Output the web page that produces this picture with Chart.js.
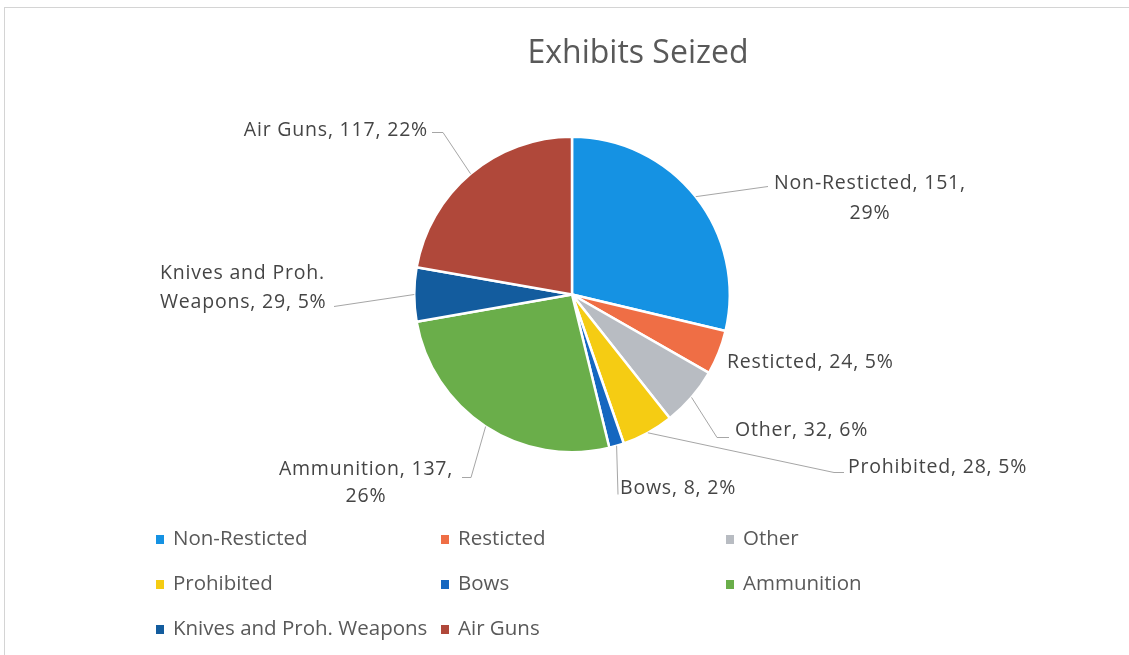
<!DOCTYPE html>
<html>
<head>
<meta charset="utf-8">
<script src="https://cdn.jsdelivr.net/npm/chart.js@4.4.1/dist/chart.umd.min.js"></script>
<style>
  html, body { margin: 0; padding: 0; background: #fff; }
  #wrap { width: 1129px; height: 655px; position: relative; }
</style>
</head>
<body>
<div id="wrap"><canvas id="pie"></canvas></div>
<script>
// --- data ---
const categories = ["Non-Resticted", "Resticted", "Other", "Prohibited", "Bows", "Ammunition", "Knives and Proh. Weapons", "Air Guns"];
const counts = [151, 24, 32, 28, 8, 137, 29, 117];
const sliceColors = ["#1592e3", "#ef6e45", "#b8bcc2", "#f5cc13", "#1567c0", "#6aae4a", "#135c9e", "#b0483a"];

const textColor = "#454545";
const lineColor = "#a6a6a6";
const labelFont = "19.5px 'Open Sans'";

// label layout, relative to the pie centre: text lines, anchor, alignment, elbow of leader line
const labelLayout = [
  { lines: ["Non-Resticted, 151,", "29%"], x: 298, y: -111, align: "center", lh: 30, elbow: [[196, -108]], tip: null },
  { lines: ["Resticted, 24, 5%"], x: 155, y: 68, align: "left", lh: 30, elbow: null },
  { lines: ["Other, 32, 6%"], x: 163, y: 136, align: "left", lh: 30, elbow: [[145, 143]], tip: [157, 143] },
  { lines: ["Prohibited, 28, 5%"], x: 276, y: 173, align: "left", lh: 30, elbow: [[262, 178]], tip: [272, 178] },
  { lines: ["Bows, 8, 2%"], x: 48, y: 194, align: "left", lh: 30, elbow: [[46, 200]], tip: null },
  { lines: ["Ammunition, 137,", "26%"], x: -206, y: 175, align: "center", lh: 27, elbow: [[-101, 183]], tip: [-110, 183] },
  { lines: ["Knives and Proh.", "Weapons, 29, 5%"], x: -412, y: -21, align: "left", lh: 29, elbow: [[-238, 12]], tip: null },
  { lines: ["Air Guns, 117, 22%"], x: -144, y: -164, align: "right", lh: 30, elbow: [[-129, -162]], tip: [-140, -162] }
];

const legendCols = [160, 445, 730];
const legendRows = [539, 584, 629];

const decorPlugin = {
  id: "decor",
  beforeDraw(chart) {
    const ctx = chart.ctx;
    ctx.save();
    ctx.fillStyle = "#fff";
    ctx.fillRect(0, 0, chart.width, chart.height);
    ctx.strokeStyle = "#d4d4d4";
    ctx.lineWidth = 1;
    ctx.strokeRect(4.5, 7.5, chart.width + 10, chart.height + 10);
    ctx.restore();
  },
  afterDraw(chart) {
    const ctx = chart.ctx;
    const meta = chart.getDatasetMeta(0);
    const cx = meta.data[0].x, cy = meta.data[0].y;
    ctx.save();

    // title
    ctx.fillStyle = "#595959";
    ctx.font = "32px 'Open Sans'";
    ctx.textAlign = "center";
    ctx.textBaseline = "middle";
    ctx.fillText("Exhibits Seized", 638, 54);

    // data labels with leader lines
    ctx.font = labelFont;
    ctx.letterSpacing = "0.8px";
    meta.data.forEach((arc, i) => {
      const L = labelLayout[i];
      const p = arc.getProps(["startAngle", "endAngle", "outerRadius"], true);
      const mid = (p.startAngle + p.endAngle) / 2;
      const ex = cx + Math.cos(mid) * p.outerRadius;
      const ey = cy + Math.sin(mid) * p.outerRadius;
      if (L.elbow) {
        ctx.strokeStyle = lineColor;
        ctx.lineWidth = 1;
        ctx.beginPath();
        ctx.moveTo(ex, ey);
        L.elbow.forEach(e => ctx.lineTo(cx + e[0], cy + e[1]));
        if (L.tip) ctx.lineTo(cx + L.tip[0], cy + L.tip[1]);
        ctx.stroke();
      }
      ctx.fillStyle = textColor;
      ctx.textAlign = L.align;
      ctx.textBaseline = "middle";
      L.lines.forEach((t, k) => {
        ctx.fillText(t, cx + L.x, cy + L.y + k * L.lh);
      });
    });
    ctx.letterSpacing = "0px";

    // legend
    ctx.font = "20.5px 'Open Sans'";
    ctx.textAlign = "left";
    ctx.textBaseline = "middle";
    categories.forEach((name, i) => {
      const x = legendCols[i % 3];
      const y = legendRows[Math.floor(i / 3)];
      ctx.fillStyle = sliceColors[i];
      ctx.fillRect(x - 4, y - 4, 8, 9);
      ctx.fillStyle = "#595959";
      ctx.fillText(name, x + 13, y);
    });
    ctx.restore();
  }
};

new Chart(document.getElementById("pie"), {
  type: "pie",
  data: {
    labels: categories,
    datasets: [{
      data: counts,
      backgroundColor: sliceColors,
      borderColor: "#ffffff",
      borderWidth: 2.5
    }]
  },
  options: {
    responsive: true,
    maintainAspectRatio: false,
    animation: false,
    layout: { padding: { left: 413, right: 398, top: 135, bottom: 201 } },
    plugins: {
      legend: { display: false },
      title: { display: false },
      tooltip: { enabled: false }
    }
  },
  plugins: [decorPlugin]
});
</script>
</body>
</html>
